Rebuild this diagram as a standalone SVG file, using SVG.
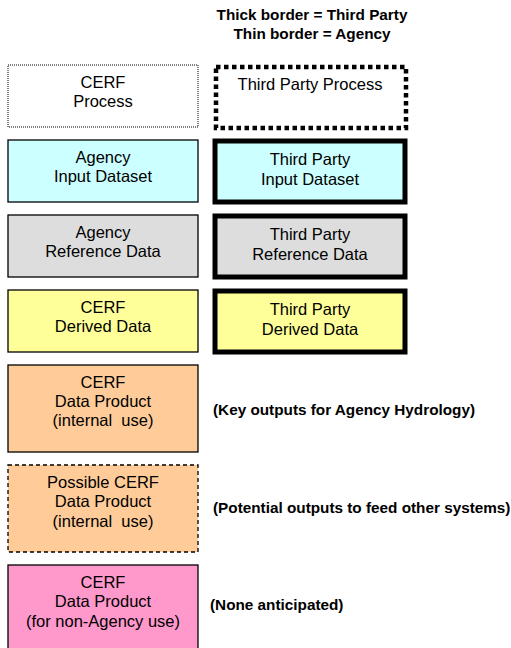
<svg xmlns="http://www.w3.org/2000/svg" width="511" height="648" viewBox="0 0 511 648">
<style>
text{font-family:"Liberation Sans",Arial,sans-serif;font-size:16.5px;fill:#000;text-anchor:middle}
.b{font-weight:bold;font-size:15.3px}
.l{text-anchor:start}
.thin{stroke:#000;stroke-width:1.3}
.thick{stroke:#000;stroke-width:5}
</style>
<rect width="511" height="648" fill="#fff"/>
<g id="legend-header">
<text class="b" x="312" y="20">Thick border = Third Party</text>
<text class="b" x="312" y="39">Thin border = Agency</text>
</g>
<g id="cerf-process">
<rect x="8" y="65" width="190" height="62" fill="#fff" stroke="#000" stroke-width="1" stroke-dasharray="1 1"/>
<text x="103" y="88">CERF</text><text x="103" y="107">Process</text>
</g>
<g id="third-party-process">
<rect x="216" y="67" width="190" height="61" fill="#fff" stroke="#000" stroke-width="4.5" stroke-dasharray="4.5 3.5"/>
<text x="310" y="90">Third Party Process</text>
</g>
<g id="agency-input">
<rect x="8" y="140" width="190" height="62" fill="#CCFFFF" class="thin"/>
<text x="103" y="163">Agency</text><text x="103" y="182">Input Dataset</text>
</g>
<g id="tp-input">
<rect x="215" y="141" width="190" height="61" fill="#CCFFFF" class="thick"/>
<text x="310" y="165">Third Party</text><text x="310" y="185">Input Dataset</text>
</g>
<g id="agency-ref">
<rect x="8" y="215" width="190" height="62" fill="#DDDDDD" class="thin"/>
<text x="103" y="238">Agency</text><text x="103" y="257">Reference Data</text>
</g>
<g id="tp-ref">
<rect x="215" y="216" width="190" height="61" fill="#DDDDDD" class="thick"/>
<text x="310" y="240">Third Party</text><text x="310" y="260">Reference Data</text>
</g>
<g id="cerf-derived">
<rect x="8" y="290" width="190" height="62" fill="#FFFF99" class="thin"/>
<text x="103" y="313">CERF</text><text x="103" y="332">Derived Data</text>
</g>
<g id="tp-derived">
<rect x="215" y="291" width="190" height="61" fill="#FFFF99" class="thick"/>
<text x="310" y="315">Third Party</text><text x="310" y="335">Derived Data</text>
</g>
<g id="cerf-product-internal">
<rect x="8" y="365" width="190" height="87" fill="#FFCC99" class="thin"/>
<text x="103" y="388">CERF</text><text x="103" y="407">Data Product</text><text x="103" y="426">(internal&#160; use)</text>
</g>
<g id="label-key">
<text class="b l" x="213" y="415">(Key outputs for Agency Hydrology)</text>
</g>
<g id="possible-cerf-product">
<rect x="8" y="465" width="190" height="87" fill="#FFCC99" stroke="#000" stroke-width="1.3" stroke-dasharray="4 3"/>
<text x="103" y="488">Possible CERF</text><text x="103" y="507">Data Product</text><text x="103" y="527">(internal&#160; use)</text>
</g>
<g id="label-potential">
<text class="b l" x="213" y="513">(Potential outputs to feed other systems)</text>
</g>
<g id="cerf-product-external">
<rect x="8" y="565" width="190" height="90" fill="#FF99CC" class="thin"/>
<text x="103" y="588">CERF</text><text x="103" y="607">Data Product</text><text x="103" y="627">(for non-Agency use)</text>
</g>
<g id="label-none">
<text class="b l" x="210" y="610">(None anticipated)</text>
</g>
<g id="connectors"></g>
</svg>
